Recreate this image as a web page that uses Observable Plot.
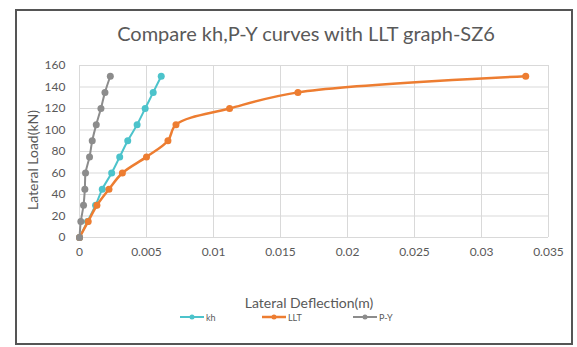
<!DOCTYPE html>
<html>
<head>
<meta charset="utf-8">
<script src="https://cdn.jsdelivr.net/npm/d3@7"></script>
<script src="https://cdn.jsdelivr.net/npm/@observablehq/plot@0.6"></script>
<style>
  html, body { margin: 0; padding: 0; background: #fff; }
  #chart { position: relative; width: 577px; height: 347px; font-family: Lato, "Open Sans", sans-serif; color: #595959; overflow: hidden; }
  #chart > svg { position: absolute; left: 0; top: 0; }
  .frame { position: absolute; left: 15px; top: 9px; width: 558px; height: 336px; box-sizing: border-box; border: 2px solid #555; }
  .title { position: absolute; left: 0; top: 21px; width: 612px; text-align: center; font-size: 20px; color: #595959; }
  .ytitle { position: absolute; left: 32px; top: 160px; transform: translate(-50%, -50%) rotate(-90deg); white-space: nowrap; font-size: 14px; }
  .xtitle { position: absolute; left: 309px; top: 302px; transform: translate(-50%, -50%); white-space: nowrap; font-size: 14px; }
  .legend { position: absolute; top: 311px; left: 0; width: 577px; height: 14px; }
  .legend .item { position: absolute; display: flex; align-items: center; font-size: 9px; color: #595959; }
  .legend .item svg { display: block; }
</style>
</head>
<body>
<div id="chart"></div>
<script>
// Lateral load steps (kN) shared by all three curves
const loads = [0, 15, 30, 45, 60, 75, 90, 105, 120, 135, 150];
// Lateral deflection (m) for each method
const khDeflection = [0, 0.0006, 0.0012, 0.0017, 0.0024, 0.0030, 0.0036, 0.0043, 0.0049, 0.0055, 0.0061];
const lltDeflection = [0, 0.00065, 0.0013, 0.0022, 0.0032, 0.0050, 0.0066, 0.0072, 0.0112, 0.0163, 0.0333];
const pyDeflection = [0, 0.0001, 0.0003, 0.0004, 0.00045, 0.00075, 0.00095, 0.00125, 0.0016, 0.0019, 0.0023];

const seriesNames = ["kh", "LLT", "P-Y"];
const seriesColors = ["#4cc3cb", "#ed7d31", "#8c8c8c"];
const seriesWidths = [2, 2.5, 2];

const xTicks = [0, 0.005, 0.01, 0.015, 0.02, 0.025, 0.03, 0.035];
const yTicks = [0, 20, 40, 60, 80, 100, 120, 140, 160];

const titleText = "Compare kh,P-Y curves with LLT graph-SZ6";
const xTitle = "Lateral Deflection(m)";
const yTitle = "Lateral Load(kN)";

const deflections = [khDeflection, lltDeflection, pyDeflection];
const rows = seriesNames.map((name, i) =>
  loads.map((load, j) => ({series: name, x: deflections[i][j], y: load}))
);

const marks = [
  Plot.gridX(xTicks, {stroke: "#d9d9d9", strokeOpacity: 1, strokeWidth: 1}),
  Plot.gridY(yTicks, {stroke: "#d9d9d9", strokeOpacity: 1, strokeWidth: 1}),
  Plot.axisX({ticks: xTicks, tickSize: 0, tickPadding: 10, tickFormat: d3.format("~g"), label: null, fontSize: 12, color: "#595959"}),
  Plot.axisY({ticks: yTicks, tickSize: 0, tickPadding: 14, label: null, fontSize: 12, color: "#595959"})
];
rows.forEach((data, i) => {
  marks.push(Plot.line(data, {x: "x", y: "y", stroke: seriesColors[i], strokeWidth: seriesWidths[i], curve: "catmull-rom"}));
  marks.push(Plot.dot(data, {x: "x", y: "y", r: 3.5, fill: seriesColors[i], stroke: "none"}));
});

const plot = Plot.plot({
  width: 577,
  height: 347,
  marginLeft: 79,
  marginRight: 29,
  marginTop: 65,
  marginBottom: 110,
  style: {fontFamily: "Lato, 'Open Sans', sans-serif", background: "transparent", color: "#595959"},
  x: {domain: [0, 0.035]},
  y: {domain: [0, 160]},
  marks
});

const chart = document.getElementById("chart");
chart.appendChild(plot);

const frame = document.createElement("div");
frame.className = "frame";
chart.appendChild(frame);

const title = document.createElement("div");
title.className = "title";
title.textContent = titleText;
chart.appendChild(title);

const yt = document.createElement("div");
yt.className = "ytitle";
yt.textContent = yTitle;
chart.appendChild(yt);

const xt = document.createElement("div");
xt.className = "xtitle";
xt.textContent = xTitle;
chart.appendChild(xt);

// Legend: line-with-marker swatch followed by series name
const legend = document.createElement("div");
legend.className = "legend";
const legendLeft = [180, 262, 353];
seriesNames.forEach((name, i) => {
  const item = document.createElement("div");
  item.className = "item";
  item.style.left = legendLeft[i] + "px";
  item.innerHTML =
    `<svg width="24" height="12"><line x1="0" y1="6" x2="24" y2="6" stroke="${seriesColors[i]}" stroke-width="${seriesWidths[i]}"/>` +
    `<circle cx="12" cy="6" r="2.5" fill="${seriesColors[i]}"/></svg><span style="margin-left:2px">${name}</span>`;
  legend.appendChild(item);
});
chart.appendChild(legend);
</script>
</body>
</html>
